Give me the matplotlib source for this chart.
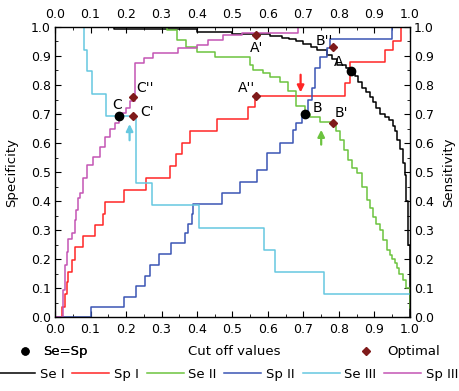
import numpy as np
import matplotlib
matplotlib.use("Agg")
import matplotlib.pyplot as plt
from matplotlib.lines import Line2D

# Se I (black)
se1_x = [0.0, 0.165, 0.40, 0.50, 0.605, 0.64, 0.66, 0.68, 0.70, 0.72, 0.738, 0.765, 0.78, 0.795,
         0.82, 0.834, 0.845, 0.855, 0.865, 0.875, 0.887, 0.895, 0.905, 0.915, 0.93, 0.942, 0.952,
         0.958, 0.965, 0.972, 0.98, 0.986, 0.99, 0.995, 1.0]
se1_y = [1.0, 0.993, 0.984, 0.975, 0.968, 0.962, 0.958, 0.95, 0.94, 0.93, 0.92, 0.905, 0.89, 0.87,
         0.857, 0.848, 0.83, 0.81, 0.79, 0.775, 0.76, 0.74, 0.72, 0.70, 0.69, 0.68, 0.66,
         0.64, 0.61, 0.58, 0.53, 0.49, 0.40, 0.25, 0.0]
# Sp I (red)
sp1_x = [0.0, 0.015, 0.019, 0.028, 0.033, 0.037, 0.048, 0.056, 0.08, 0.113, 0.135, 0.14, 0.195,
         0.256, 0.324, 0.34, 0.357, 0.38, 0.417, 0.456, 0.544, 0.563, 0.817, 0.831, 0.93, 0.952,
         0.975, 1.0]
sp1_y = [0.0, 0.0, 0.035, 0.08, 0.12, 0.157, 0.197, 0.24, 0.28, 0.318, 0.357, 0.397, 0.437,
         0.48, 0.52, 0.562, 0.60, 0.64, 0.64, 0.683, 0.724, 0.762, 0.807, 0.88, 0.92, 0.95,
         1.0, 1.0]
# Se II (green)
se2_x = [0.0, 0.305, 0.315, 0.343, 0.37, 0.40, 0.45, 0.55, 0.558, 0.587, 0.605, 0.634, 0.656,
         0.68, 0.705, 0.718, 0.746, 0.783, 0.793, 0.803, 0.815, 0.826, 0.838, 0.85, 0.865, 0.88,
         0.888, 0.896, 0.905, 0.915, 0.925, 0.935, 0.943, 0.95, 0.957, 0.963, 0.97, 0.98, 0.99,
         1.0]
se2_y = [1.0, 1.0, 0.99, 0.955, 0.93, 0.915, 0.896, 0.87, 0.852, 0.84, 0.828, 0.81, 0.78,
         0.726, 0.70, 0.69, 0.673, 0.668, 0.64, 0.61, 0.575, 0.54, 0.515, 0.495, 0.45, 0.403,
         0.375, 0.345, 0.32, 0.30, 0.265, 0.23, 0.215, 0.2, 0.185, 0.168, 0.15, 0.128, 0.1,
         0.03]
# Sp II (blue)
sp2_x = [0.0, 0.101, 0.195, 0.228, 0.253, 0.268, 0.294, 0.326, 0.366, 0.376, 0.385, 0.39, 0.47,
         0.52, 0.57, 0.597, 0.634, 0.67, 0.68, 0.695, 0.713, 0.724, 0.732, 0.746, 0.766, 0.775,
         0.95, 1.0]
sp2_y = [0.0, 0.035, 0.07, 0.107, 0.142, 0.18, 0.217, 0.255, 0.29, 0.32, 0.357, 0.39, 0.427,
         0.466, 0.507, 0.565, 0.60, 0.645, 0.668, 0.70, 0.75, 0.79, 0.86, 0.897, 0.927, 0.96,
         1.0, 1.0]
# Se III (cyan)
se3_x = [0.0, 0.082, 0.09, 0.105, 0.144, 0.228, 0.273, 0.405, 0.59, 0.62, 0.758, 1.0]
se3_y = [1.0, 0.92, 0.848, 0.77, 0.693, 0.462, 0.386, 0.307, 0.23, 0.155, 0.078, 0.078]
# Sp III (magenta)
sp3_x = [0.0, 0.014, 0.023, 0.028, 0.033, 0.037, 0.048, 0.056, 0.06, 0.065, 0.07, 0.08, 0.09,
         0.107, 0.127, 0.141, 0.155, 0.169, 0.18, 0.19, 0.2, 0.211, 0.225, 0.25, 0.277, 0.347,
         0.40, 0.43, 0.474, 0.526, 0.685, 1.0]
sp3_y = [0.0, 0.0, 0.093, 0.18, 0.224, 0.27, 0.29, 0.335, 0.37, 0.41, 0.428, 0.48, 0.524,
         0.552, 0.587, 0.62, 0.65, 0.668, 0.693, 0.703, 0.72, 0.745, 0.877, 0.893, 0.91, 0.928,
         0.937, 0.955, 0.972, 0.98, 1.0, 1.0]

# Se=Sp points and optimal points
eq_x = [0.834, 0.705, 0.18]
eq_y = [0.848, 0.70, 0.693]
eq_lab = ["A", "B", "C"]
eq_lab_pos = [(0.80, 0.88), (0.74, 0.72), (0.174, 0.73)]
opt_x = [0.566, 0.565, 0.783, 0.783, 0.22, 0.22]
opt_y = [0.972, 0.762, 0.668, 0.931, 0.693, 0.757]
opt_lab = ["A'", "A''", "B'", "B''", "C'", "C''"]
opt_lab_pos = [(0.568, 0.927), (0.54, 0.79), (0.808, 0.703), (0.76, 0.95), (0.258, 0.707),
               (0.254, 0.79)]

series = [
    ("Se I", se1_x, se1_y, "black"),
    ("Sp I", sp1_x, sp1_y, "#ff2626"),
    ("Se II", se2_x, se2_y, "#6cc33f"),
    ("Sp II", sp2_x, sp2_y, "#3a55b4"),
    ("Se III", se3_x, se3_y, "#66c8e0"),
    ("Sp III", sp3_x, sp3_y, "#c455b4"),
]

plt.rcParams['font.family'] = ['DejaVu Sans']
plt.rcParams['font.size'] = 9

fig = plt.figure(figsize=(4.59, 3.91), dpi=100)
ax = fig.add_axes([0.12, 0.189, 0.773, 0.742])

handles = []
for name, xs, ys, col in series:
    h, = ax.plot(xs, ys, drawstyle='steps-post', color=col, lw=1.1, label=name)
    handles.append(h)

ax.plot(eq_x, eq_y, 'o', color='black', ms=6, zorder=5)
ax.plot(opt_x, opt_y, 'D', color='#7f1a1a', ms=4.5, zorder=5)
for t, (px, py) in zip(eq_lab, eq_lab_pos):
    ax.text(px, py, t, ha='center', va='center', fontsize=10)
for t, (px, py) in zip(opt_lab, opt_lab_pos):
    ax.text(px, py, t, ha='center', va='center', fontsize=10)

# arrows
ax.annotate("", xy=(0.692, 0.765), xytext=(0.692, 0.845),
            arrowprops=dict(arrowstyle='-|>', color='#ff2626', lw=1.6, mutation_scale=10))
ax.annotate("", xy=(0.75, 0.655), xytext=(0.75, 0.585),
            arrowprops=dict(arrowstyle='-|>', color='#6cc33f', lw=1.6, mutation_scale=10))
ax.annotate("", xy=(0.21, 0.675), xytext=(0.21, 0.6),
            arrowprops=dict(arrowstyle='-|>', color='#66c8e0', lw=1.6, mutation_scale=10))

ax.set_xlim(0, 1)
ax.set_ylim(0, 1)
ticks = np.arange(0, 1.01, 0.1)
ax.set_xticks(ticks)
ax.set_yticks(ticks)
ax.set_xticks(np.arange(0.05, 1.0, 0.1), minor=True)
ax.set_yticks(np.arange(0.05, 1.0, 0.1), minor=True)
ax.tick_params(which='both', direction='in', top=True, right=True, labeltop=True,
               labelright=True, labelsize=9)
ax.tick_params(axis='x', pad=4)
ax.tick_params(axis='y', pad=3)
ax.tick_params(which='major', length=4)
ax.tick_params(which='minor', length=2.5)
for s in ax.spines.values():
    s.set_linewidth(1.0)
fig.text(0.025, 0.56, "Specificity", rotation=90, ha='center', va='center', fontsize=9.5)
fig.text(0.977, 0.56, "Sensitivity", rotation=90, ha='center', va='center', fontsize=9.5)

fig.text(0.51, 0.1, "Cut off values", ha='center', va='center', fontsize=9.5)

leg1 = fig.legend([Line2D([], [], marker='o', ls='', color='black', ms=5)], ["Se=Sp"],
                  loc='center left', bbox_to_anchor=(0.0, 0.1), frameon=False,
                  handletextpad=0.4, fontsize=9.5)
leg2 = fig.legend([Line2D([], [], marker='D', ls='', color='#7f1a1a', ms=4)], ["Optimal"],
                  loc='center right', bbox_to_anchor=(0.985, 0.1), frameon=False,
                  handletextpad=0.6, fontsize=9.5)
fig.add_artist(leg1)
fig.legend(handles, [h.get_label() for h in handles], loc='center', ncol=6,
           bbox_to_anchor=(0.497, 0.043), frameon=False, handlelength=2.8,
           handletextpad=0.35, columnspacing=0.6, borderpad=0.1, fontsize=9.5)

fig.savefig("out.png", dpi=100)
